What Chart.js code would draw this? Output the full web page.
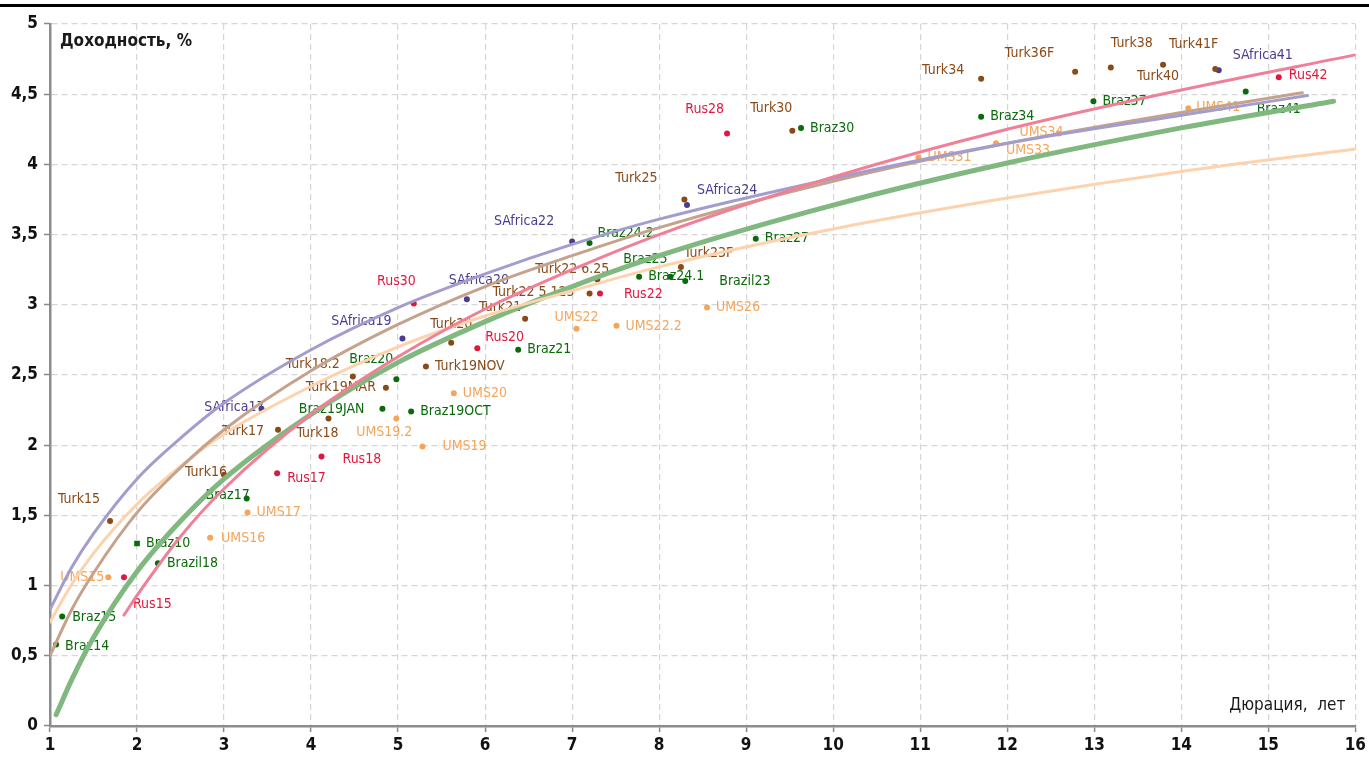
<!DOCTYPE html>
<html>
<head>
<meta charset="utf-8">
<script src="https://cdn.jsdelivr.net/npm/chart.js@4.4.1/dist/chart.umd.min.js"></script>
<style>
html,body{margin:0;padding:0;background:#fff;}
#wrap{width:1369px;height:758px;position:relative;}
</style>
</head>
<body>
<div id="wrap"><canvas id="c"></canvas></div>
<script>
// ---- Data (duration, years ; yield, %) ----
const turkNames = ['Turk15','Turk16','Turk17','Turk18','Turk18.2','Turk19MAR','Turk19NOV','Turk20','Turk21','Turk22 5.125','Turk22 6.25','Turk23F','Turk25','Turk30','Turk34','Turk36F','Turk38','Turk40','Turk41F'];
const turkDur   = [1.69,3.00,3.62,4.20,4.48,4.86,5.32,5.61,6.46,7.20,7.29,8.25,8.29,9.53,11.70,12.78,13.19,13.79,14.39];
const turkYld   = [1.46,1.79,2.11,2.19,2.49,2.41,2.56,2.73,2.90,3.08,3.18,3.27,3.75,4.24,4.61,4.66,4.69,4.71,4.68];

const brazNames = ['Braz14','Braz15','Braz10','Brazil18','Braz17','Braz20','Braz19JAN','Braz19OCT','Braz21','Braz24.2','Braz24.1','Braz25','Brazil23','Braz27','Braz30','Braz34','Braz37','Braz41'];
const brazDur   = [1.07,1.14,2.00,2.24,3.26,4.98,4.82,5.15,6.38,7.20,7.77,8.13,8.30,9.11,9.63,11.70,12.99,14.74];
const brazYld   = [0.58,0.78,1.30,1.16,1.62,2.47,2.26,2.24,2.68,3.44,3.20,3.20,3.17,3.47,4.26,4.34,4.45,4.52];

const rusNames = ['Rus15','Rus17','Rus18','Rus20','Rus22','Rus28','Rus30','Rus42'];
const rusDur   = [1.85,3.61,4.12,5.91,7.32,8.78,5.18,15.12];
const rusYld   = [1.06,1.80,1.92,2.69,3.08,4.22,3.01,4.62];

const safNames = ['SAfrica17','SAfrica19','SAfrica20','SAfrica22','SAfrica24','SAfrica41'];
const safDur   = [3.43,5.05,5.79,7.00,8.32,14.43];
const safYld   = [2.26,2.76,3.04,3.45,3.71,4.67];

const umsNames = ['UMS15','UMS16','UMS17','UMS19','UMS19.2','UMS20','UMS22','UMS22.2','UMS26','UMS31','UMS33','UMS34','UMS41'];
const umsDur   = [1.67,2.84,3.27,5.28,4.98,5.64,7.05,7.51,8.55,10.98,11.87,12.59,14.08];
const umsYld   = [1.06,1.34,1.52,1.99,2.19,2.37,2.83,2.85,2.98,4.05,4.15,4.22,4.40];

// ---- Trend curves ----
const safTrendX  = [1,1.25,1.5,2,2.5,3,4,5,6,7,8,10,12,14,15.45];
const safTrendY  = [0.83,1.13,1.37,1.76,2.05,2.30,2.68,2.98,3.22,3.43,3.61,3.90,4.15,4.35,4.49];
const turkTrendX = [1,1.25,1.5,2,2.5,3,4,5,6,7,8,10,12,14,15.39];
const turkTrendY = [0.50,0.83,1.09,1.52,1.84,2.11,2.53,2.86,3.13,3.35,3.55,3.88,4.15,4.37,4.51];
const umsTrendX  = [1,1.25,1.5,2,2.5,3,4,5,6,7,8,10,12,14,16];
const umsTrendY  = [0.74,1.01,1.23,1.58,1.85,2.08,2.42,2.70,2.92,3.10,3.27,3.54,3.76,3.95,4.11];
const rusTrendX  = [1.85,2,2.5,3,4,5,6,7,8,10,12,14,16];
const rusTrendY  = [0.79,0.93,1.35,1.69,2.22,2.63,2.97,3.25,3.50,3.91,4.25,4.53,4.78];
const brazTrendX = [1.07,1.25,1.5,2,2.5,3,4,5,6,7,8,10,12,14,15.75];
const brazTrendY = [0.08,0.33,0.63,1.10,1.46,1.76,2.22,2.59,2.88,3.13,3.35,3.71,4.01,4.26,4.45];

const xTicks = [1,2,3,4,5,6,7,8,9,10,11,12,13,14,15,16];
const yTicks = [0,0.5,1,1.5,2,2.5,3,3.5,4,4.5,5];

// ---- Label placement (style only): [dx, dy, align] relative to the dot ----
const labelPlace = {
 'Turk15':[-10,-22,'right'],'Turk16':[3,-2,'right'],'Turk17':[-14,2,'right'],'Turk18':[-32,15,'left'],
 'Turk18.2':[-13,-12,'right'],'Turk19MAR':[-10,0,'right'],'Turk20':[0,-18,'center'],'Turk21':[-4,-11,'right'],
 'Turk22 5.125':[-15,-1,'right'],'Turk22 6.25':[12,-10,'right'],'Turk23F':[3,-14,'left'],'Turk25':[-27,-21,'right'],
 'Turk30':[0,-22,'right'],'Turk34':[-17,-8,'right'],'Turk36F':[-21,-18,'right'],'Turk38':[0,-24,'left'],
 'Turk40':[-26,12,'left'],'Turk41F':[3,-25,'right'],
 'Braz14':[9,2,'left'],'Braz15':[10,1,'left'],'Braz17':[3,-3,'right'],'Braz20':[-3,-20,'right'],
 'Braz19JAN':[-18,1,'right'],'Braz24.2':[8,-10,'left'],'Braz25':[-3,-17,'right'],'Brazil23':[34,0,'left'],
 'Braz41':[11,18,'left'],
 'Rus15':[9,27,'left'],'Rus17':[10,5,'left'],'Rus18':[21,3,'left'],'Rus20':[8,-11,'left'],'Rus22':[24,1,'left'],
 'Rus28':[-3,-24,'right'],'Rus30':[2,-22,'right'],'Rus42':[10,-2,'left'],
 'SAfrica17':[3,-1,'right'],'SAfrica19':[-11,-17,'right'],'SAfrica20':[-18,-19,'left'],'SAfrica22':[-18,-20,'right'],
 'SAfrica24':[10,-15,'left'],'SAfrica41':[14,-15,'left'],
 'UMS15':[-4,0,'right'],'UMS16':[11,0,'left'],'UMS19':[20,0,'left'],'UMS19.2':[16,14,'right'],
 'UMS22':[-22,-11,'left'],'UMS33':[10,7,'left'],'UMS34':[5,-1,'right'],'UMS41':[8,-1,'left']
};

const FONT = "'Liberation Sans Narrow','DejaVu Sans Condensed','Arial Narrow',sans-serif";
const C = {
  turk:'#8a4a17', braz:'#0b6b0b', rus:'#e0173f', saf:'#4a3d8f', ums:'#f5a55a',
  safLine:'#a39dce', turkLine:'#c4a28c', umsLine:'#fdd3ae', rusLine:'#ef8097', brazLine:'#80b880'
};

function pts(xs, ys){ return xs.map((x,i)=>({x:x, y:ys[i]})); }
function scatterSet(label, names, xs, ys, color){
  return {
    type:'scatter', label, names, data: pts(xs, ys), order: 5,
    backgroundColor: color, borderColor: color, borderWidth: 0,
    pointRadius: ctx => (names[ctx.dataIndex]==='Braz10' ? 4 : 3),
    pointStyle: ctx => (names[ctx.dataIndex]==='Braz10' ? 'rect' : 'circle'),
    labelColor: color
  };
}
function lineSet(label, xs, ys, color, w, order){
  return {
    type:'line', label, data: pts(xs, ys), order,
    borderColor: color, borderWidth: w, pointRadius: 0, fill:false,
    cubicInterpolationMode:'monotone', borderCapStyle:'round'
  };
}

const labelPlugin = {
  id:'pointLabels',
  beforeDatasetsDraw(chart){
    const ctx = chart.ctx;
    ctx.save();
    ctx.font = "14px " + FONT;
    ctx.textBaseline = 'middle';
    chart.data.datasets.forEach((ds, di) => {
      if (!ds.names) return;
      const meta = chart.getDatasetMeta(di);
      meta.data.forEach((el, i) => {
        const nm = ds.names[i];
        const p = labelPlace[nm] || [9, 0, 'left'];
        ctx.fillStyle = ds.labelColor;
        ctx.textAlign = p[2];
        ctx.fillText(nm, el.x + p[0], el.y + p[1]);
      });
    });
    ctx.restore();
  },
  afterDraw(chart){
    const ctx = chart.ctx, a = chart.chartArea;
    ctx.save();
    ctx.fillStyle = '#000';
    ctx.fillRect(0, 4, chart.width, 3);
    ctx.fillStyle = '#1a1a1a';
    ctx.font = "bold 17px " + FONT;
    ctx.textAlign = 'left'; ctx.textBaseline = 'middle';
    ctx.fillText('Доходность, %', a.left + 10, a.top + 18);
    ctx.font = "17px " + FONT;
    ctx.textAlign = 'right';
    ctx.fillText('Дюрация,  лет', a.right - 10, a.bottom - 20);
    ctx.restore();
  }
};

const datasets = [
  scatterSet('Turkey', turkNames, turkDur, turkYld, C.turk),
  scatterSet('Brazil', brazNames, brazDur, brazYld, C.braz),
  scatterSet('Russia', rusNames, rusDur, rusYld, C.rus),
  scatterSet('South Africa', safNames, safDur, safYld, C.saf),
  scatterSet('UMS', umsNames, umsDur, umsYld, C.ums),
  lineSet('Brazil trend', brazTrendX, brazTrendY, C.brazLine, 5, 4),
  lineSet('UMS trend', umsTrendX, umsTrendY, C.umsLine, 3, 3),
  lineSet('Turkey trend', turkTrendX, turkTrendY, C.turkLine, 3, 2),
  lineSet('SAfrica trend', safTrendX, safTrendY, C.safLine, 3, 1),
  lineSet('Russia trend', rusTrendX, rusTrendY, C.rusLine, 3, 0)
];

new Chart(document.getElementById('c'), {
  data: { datasets },
  plugins: [labelPlugin],
  options: {
    responsive: true, maintainAspectRatio: false, animation: false,
    layout: { padding: { top: 24, right: 12, left: 0, bottom: 0 } },
    plugins: { legend: { display: false }, tooltip: { enabled: false } },
    scales: {
      x: {
        type:'linear', min: 1, max: 16,
        afterBuildTicks: s => { s.ticks = xTicks.map(v => ({value: v})); },
        afterFit: s => { s.height = 32; },
        grid: { color:'#d6d6d6', lineWidth: 1.2, tickLength: 6, tickColor:'#888', tickBorderDash:[1,0], tickWidth: 1.5 },
        border: { color:'#8c8c8c', width: 2.5, dash:[6,4] },
        ticks: { color:'#111', font: { size: 17, weight: 'bold', family: FONT }, padding: 3, maxRotation: 0 }
      },
      y: {
        type:'linear', min: 0, max: 5,
        afterBuildTicks: s => { s.ticks = yTicks.map(v => ({value: v})); },
        afterFit: s => { s.width = 50; },
        grid: { color:'#d6d6d6', lineWidth: 1.2, tickLength: 6, tickColor:'#888', tickBorderDash:[1,0], tickWidth: 1.5 },
        border: { color:'#8c8c8c', width: 2.5, dash:[6,4] },
        ticks: { color:'#111', font: { size: 17, weight: 'bold', family: FONT }, padding: 6,
                 callback: v => String(v).replace('.', ',') }
      }
    }
  }
});
</script>
</body>
</html>
